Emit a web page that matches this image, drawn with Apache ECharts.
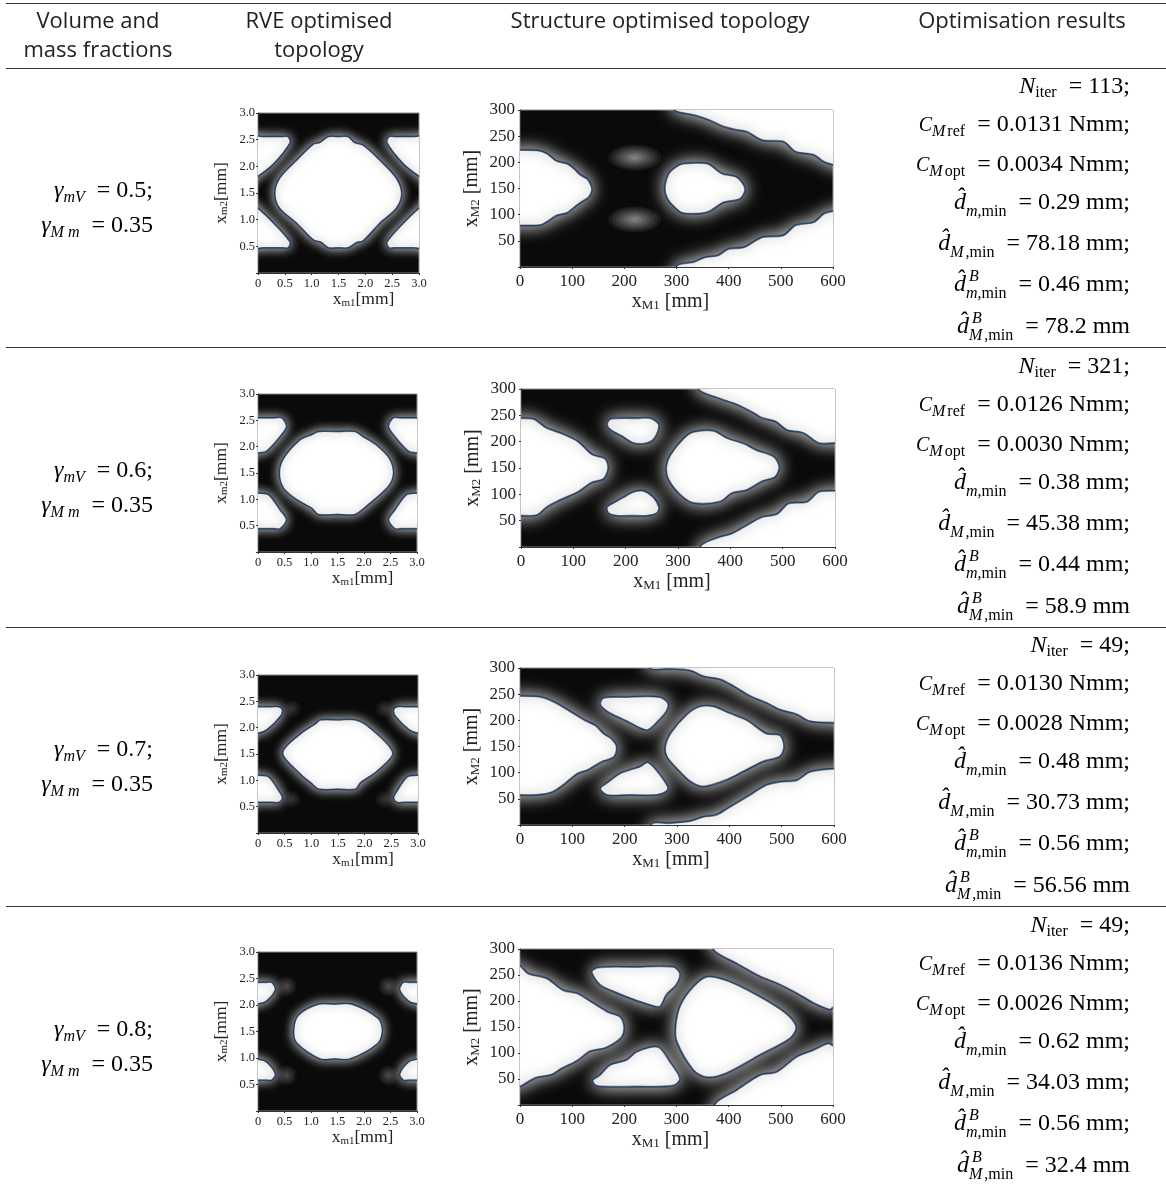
<!DOCTYPE html>
<html><head><meta charset="utf-8">
<script src="https://cdn.jsdelivr.net/npm/echarts@6/dist/echarts.min.js"></script>
<style>html,body{margin:0;padding:0;background:#fff}#c{width:1166px;height:1185px}</style>
</head><body><div id="c"></div>
<script>
// ---------- table text ----------
const headers = [["Volume and","mass fractions"],["RVE optimised","topology"],["Structure optimised topology"],["Optimisation results"]];
const gammaV = ["0.5","0.6","0.7","0.8"];
const gammaM = ["0.35","0.35","0.35","0.35"];
const nIter = ["113","321","49","49"];
const cRef = ["0.0131","0.0126","0.0130","0.0136"];
const cOpt = ["0.0034","0.0030","0.0028","0.0026"];
const dmMin = ["0.29","0.38","0.48","0.62"];
const dMMin = ["78.18","45.38","30.73","34.03"];
const dmBMin = ["0.46","0.44","0.56","0.56"];
const dMBMin = ["78.2","58.9","56.56","32.4"];

// ---------- void (white) regions in axis units ----------
const rveVoids = [
 [ [[0.31,1.49],[0.40,1.78],[0.72,2.12],[1.03,2.42],[1.15,2.45],[1.31,2.56],[1.50,2.56],[1.68,2.56],[1.80,2.45],[1.96,2.40],[2.27,2.12],[2.58,1.78],[2.68,1.49],[2.58,1.21],[2.27,0.93],[1.96,0.60],[1.84,0.57],[1.68,0.47],[1.50,0.47],[1.31,0.47],[1.18,0.57],[1.03,0.62],[0.72,0.93],[0.40,1.21]],
   [[-0.2,1.66],[0,1.81],[0.28,2.03],[0.60,2.44],[0.56,2.56],[0.45,2.56],[0.1,2.56],[-0.2,2.56]],
   [[3.2,1.66],[3,1.81],[2.72,2.03],[2.40,2.44],[2.44,2.56],[2.55,2.56],[2.9,2.56],[3.2,2.56]],
   [[-0.2,1.37],[0,1.22],[0.28,0.95],[0.60,0.58],[0.56,0.47],[0.45,0.47],[0.1,0.47],[-0.2,0.47]],
   [[3.2,1.37],[3,1.22],[2.72,0.95],[2.40,0.58],[2.44,0.47],[2.55,0.47],[2.9,0.47],[3.2,0.47]] ],
 [ [[0.40,1.50],[0.48,1.78],[0.79,2.13],[1.01,2.23],[1.14,2.29],[1.50,2.29],[1.83,2.29],[1.99,2.19],[2.24,2.03],[2.48,1.78],[2.56,1.50],[2.46,1.24],[2.05,0.87],[1.83,0.71],[1.50,0.71],[1.14,0.71],[1.01,0.83],[0.73,0.99],[0.48,1.21]],
   [[-0.2,1.88],[0,1.88],[0.16,1.91],[0.42,2.19],[0.54,2.38],[0.45,2.55],[0.3,2.55],[0,2.55],[-0.2,2.55]],
   [[3.2,1.88],[3,1.88],[2.84,1.91],[2.58,2.19],[2.46,2.38],[2.55,2.55],[2.7,2.55],[3,2.55],[3.2,2.55]],
   [[-0.2,1.12],[0,1.12],[0.2,1.09],[0.42,0.8],[0.54,0.61],[0.42,0.44],[0.3,0.44],[0,0.44],[-0.2,0.44]],
   [[3.2,1.12],[3,1.12],[2.8,1.09],[2.58,0.8],[2.46,0.61],[2.58,0.44],[2.7,0.44],[3,0.44],[3.2,0.44]] ],
 [ [[0.46,1.52],[0.80,1.89],[1.08,2.08],[1.17,2.15],[1.50,2.15],[1.83,2.15],[2.11,1.99],[2.53,1.52],[2.23,1.17],[1.92,0.95],[1.83,0.83],[1.50,0.83],[1.14,0.83],[0.99,0.95],[0.80,1.11]],
   [[-0.2,1.89],[0,1.89],[0.17,1.96],[0.42,2.21],[0.46,2.34],[0.39,2.40],[0.25,2.40],[0,2.40],[-0.2,2.40]],
   [[3.2,1.89],[3,1.89],[2.83,1.96],[2.58,2.21],[2.54,2.34],[2.61,2.40],[2.75,2.40],[3,2.40],[3.2,2.40]],
   [[-0.2,1.10],[0,1.10],[0.2,1.07],[0.42,0.76],[0.46,0.66],[0.39,0.58],[0.25,0.58],[0,0.58],[-0.2,0.58]],
   [[3.2,1.10],[3,1.10],[2.8,1.07],[2.58,0.76],[2.54,0.66],[2.61,0.58],[2.75,0.58],[3,0.58],[3.2,0.58]] ],
 [ [[0.67,1.53],[0.76,1.81],[1.14,2.02],[1.45,2.02],[1.77,2.02],[2.27,1.75],[2.35,1.53],[2.27,1.28],[1.74,0.98],[1.45,0.98],[1.17,0.98],[0.73,1.28]],
   [[-0.2,2.02],[0,2.02],[0.16,2.07],[0.33,2.29],[0.26,2.43],[0.15,2.43],[0,2.43],[-0.2,2.43]],
   [[3.2,2.02],[3,2.02],[2.84,2.07],[2.67,2.29],[2.74,2.43],[2.85,2.43],[3,2.43],[3.2,2.43]],
   [[-0.2,0.98],[0,0.98],[0.16,0.93],[0.33,0.7],[0.26,0.58],[0.15,0.58],[0,0.58],[-0.2,0.58]],
   [[3.2,0.98],[3,0.98],[2.84,0.93],[2.67,0.7],[2.74,0.58],[2.85,0.58],[3,0.58],[3.2,0.58]] ]
];
const structVoids = [
 [ [[-20,224],[0,224],[35,223],[52,217],[70,203],[92,197],[105,187],[115,177],[130,168],[137,155],[138,145],[132,133],[115,122],[102,112],[90,103],[70,98],[55,88],[40,80],[0,79],[-20,79]],
   [[277,150],[285,179],[301,193],[314,198],[359,198],[387,179],[416,172],[432,150],[422,130],[390,123],[365,107],[346,102],[311,103],[295,115],[282,131]],
   [[295,300],[333,290],[361,281],[390,268],[413,262],[435,258],[464,242],[505,239],[528,220],[563,214],[582,201],[600,195],[630,190],[630,330],[295,330]],
   [[301,3],[333,10],[355,19],[378,22],[400,35],[429,38],[464,57],[505,61],[528,80],[563,86],[582,102],[600,107],[630,110],[630,-30],[301,-30]] ],
 [ [[-20,245],[0,245],[25,243],[48,227],[80,215],[110,200],[136,176],[161,168],[167,150],[158,129],[135,122],[110,105],[75,89],[50,76],[30,60],[0,59],[-20,59]],
   [[164,232],[170,243],[190,245],[220,245],[247,245],[264,232],[256,207],[241,197],[215,197],[193,210],[171,222]],
   [[164,76],[180,86],[196,95],[215,105],[234,107],[253,95],[264,76],[260,64],[241,59],[210,59],[183,59],[167,64]],
   [[277,152],[285,175],[311,207],[330,219],[368,221],[394,207],[425,197],[451,184],[483,172],[494,152],[486,133],[460,124],[432,108],[403,102],[381,86],[330,83],[304,99],[282,127]],
   [[339,299],[375,283],[413,270],[445,254],[460,245],[486,238],[508,222],[540,216],[569,197],[600,197],[630,197],[630,330],[339,330]],
   [[343,2],[375,18],[400,25],[425,38],[460,57],[489,63],[511,83],[546,86],[569,105],[600,107],[630,107],[630,-30],[343,-30]] ],
 [ [[-20,247],[0,247],[40,245],[70,233],[100,215],[125,200],[145,190],[160,175],[175,165],[185,150],[180,130],[155,120],[130,105],[110,98],[85,78],[60,62],[30,57],[0,57],[-20,57]],
   [[153,230],[159,243],[200,245],[267,245],[283,233],[280,217],[261,195],[244,181],[229,185],[210,195],[185,207],[166,217]],
   [[153,70],[169,83],[191,99],[217,108],[229,112],[244,120],[261,105],[283,73],[280,64],[261,57],[210,57],[166,57]],
   [[277,150],[287,175],[318,211],[344,227],[369,227],[401,214],[433,201],[471,175],[497,172],[505,150],[497,131],[465,121],[427,102],[395,86],[350,73],[325,83],[299,108],[280,131]],
   [[248,299],[285,298],[325,295],[350,284],[382,278],[408,265],[440,246],[471,233],[497,220],[529,211],[554,198],[600,195],[630,195],[630,330],[248,330]],
   [[252,3],[285,4],[325,8],[350,16],[376,20],[401,35],[433,54],[471,77],[497,83],[529,86],[554,102],[600,108],[630,108],[630,-30],[252,-30]] ],
 [ [[-20,275],[0,268],[16,253],[51,244],[83,221],[110,215],[141,196],[169,179],[192,170],[200,150],[195,130],[165,110],[134,103],[110,85],[80,70],[60,58],[30,52],[0,35],[-20,30]],
   [[137,256],[150,265],[220,266],[294,266],[307,253],[300,231],[281,212],[268,189],[243,194],[211,205],[179,218],[153,231]],
   [[139,48],[153,58],[172,77],[204,87],[224,103],[265,112],[288,83],[307,51],[294,37],[225,35],[160,35],[144,38]],
   [[298,153],[307,192],[332,228],[358,247],[396,240],[454,212],[511,176],[530,150],[518,128],[460,96],[396,61],[358,53],[332,67],[300,122]],
   [[371,298],[415,272],[460,247],[492,234],[530,215],[562,196],[594,183],[600,187],[630,190],[630,330],[371,330]],
   [[374,3],[415,29],[460,58],[492,64],[530,93],[562,106],[591,119],[600,115],[630,112],[630,-30],[374,-30]] ]
];
// partial-density spots: centre x, centre y, radius x, radius y, peak grey level (0-255)
const rveSpots = [ [], [],
 [[0.64,2.36,0.17,0.17,48],[0.64,0.64,0.17,0.17,48],[2.36,2.36,0.17,0.17,48],[2.36,0.64,0.17,0.17,48]],
 [[0.54,2.35,0.19,0.19,70],[0.54,0.67,0.19,0.19,70],[2.46,2.35,0.19,0.19,70],[2.46,0.67,0.19,0.19,70]]
];
const structSpots = [
 [[220,209,50,24,125],[220,91,50,24,125]], [], [], []
];

// ---------- layout ----------
const rveBoxes = [[258,113,161,160],[258,394,159,158],[258,675,160,158],[258,952,159,159]];
const structBoxes = [[520,110,313,157],[521,389,314,158],[520,668,314,157],[520,949,313,156]];
const ruleYs = [3,68,347,627,906];
const rowDy = [0,279.5,559,838.5];
const resBase = [93,131,171,209,250,291,333];

const SERIF = '"Liberation Serif"';
const measure = document.createElement('canvas').getContext('2d');
const graphics = [];
function fontOf(r){ return (r.it?'italic ':'')+r.s+'px '+SERIF; }
function mathLine(right, base, runs){
  let x = right;
  for (let i=runs.length-1;i>=0;i--){
    const r = runs[i]; measure.font = fontOf(r);
    const w = measure.measureText(r.t).width;
    let px;
    if (r.zero) { px = x + r.zero; } else { x -= w + (r.pad||0); px = x; }
    graphics.push({type:'text',z:20,style:{text:r.t,x:px,y:base+(r.dy||0)-0.26*r.s,font:fontOf(r),fill:'#000',align:'left',verticalAlign:'middle'}});
  }
}
const R=t=>({t,s:24}), I=t=>({t,s:24,it:1}), CC=()=>({t:'C',s:20,it:1});
const sr=(t,d)=>({t,s:16,dy:d||5}), si=(t,d,p)=>({t,s:16,it:1,dy:d||5,pad:p||0});
const sup=t=>({t,s:16,it:1,dy:-10,zero:3});

headers.forEach((h,i)=>{
  const cx=[98,319,660,1022][i];
  h.forEach((t,j)=>graphics.push({type:'text',z:20,style:{text:t,x:cx,y:22+j*29,font:'22px "Open Sans"',fill:'#222',align:'center',verticalAlign:'middle'}}));
});
ruleYs.forEach(y=>graphics.push({type:'line',z:20,shape:{x1:6,y1:y+.5,x2:1166,y2:y+.5},style:{stroke:'#333',lineWidth:1}}));

rowDy.forEach((dy,k)=>{
  mathLine(153,197+dy,[I('γ'),si('mV'),R('  = '+gammaV[k]+';')]);
  mathLine(153,232+dy,[I('γ'),si('M'),si(' m'),R('  = '+gammaM[k])]);
  const r=1130;
  mathLine(r,resBase[0]+dy,[I('N'),sr('iter',4),R('  = '+nIter[k]+';')]);
  mathLine(r,resBase[1]+dy,[CC(),si('M',5,2),sr('ref'),R('  = '+cRef[k]+' Nmm;')]);
  mathLine(r,resBase[2]+dy,[CC(),si('M',5,2),sr('opt'),R('  = '+cOpt[k]+' Nmm;')]);
  mathLine(r,resBase[3]+dy,[I('d\u0302'),si('m',7),sr(',min',7),R('  = '+dmMin[k]+' mm;')]);
  mathLine(r,resBase[4]+dy,[I('d\u0302'),si('M',7,2),sr(',min',7),R('  = '+dMMin[k]+' mm;')]);
  mathLine(r,resBase[5]+dy,[I('d\u0302'),sup('B'),si('m',7),sr(',min',7),R('  = '+dmBMin[k]+' mm;')]);
  mathLine(r,resBase[6]+dy,[I('d\u0302'),sup('B'),si('M',7,2),sr(',min',7),R('  = '+dMBMin[k]+' mm')]);
});

// ---------- ECharts panels ----------
const BG=10;
const grids=[],xAxes=[],yAxes=[],series=[];
function tickFmt(dec,zeroY){return v=>{ if(v===0) return zeroY?'':'0'; return dec?v.toFixed(1):String(v);} }
function addPanel(box,voids,spots,cfg){
  const idx=grids.length;
  grids.push({left:box[0],top:box[1],width:box[2],height:box[3],show:true,backgroundColor:'rgb(10,10,10)',borderColor:'#8a8a8a',borderWidth:1});
  const nameStyle={fontFamily:SERIF,fontSize:cfg.nameSize,color:'#222',rich:{n:{fontFamily:SERIF,fontSize:cfg.nameSize,color:'#222'},s:{fontFamily:SERIF,fontSize:cfg.subSize,color:'#222',padding:[cfg.subDrop,0,0,0]}}};
  const common={type:'value',min:0,splitLine:{show:false},axisLine:{show:true,onZero:false,lineStyle:{color:'#333',width:1}},axisTick:{show:true,length:2,lineStyle:{color:'#333'}}};
  xAxes.push(Object.assign({},common,{gridIndex:idx,max:cfg.xMax,interval:cfg.xInt,name:cfg.xName,nameLocation:'middle',nameGap:cfg.xGap,nameTextStyle:Object.assign({padding:cfg.xNamePad},nameStyle),
    axisLabel:{show:true,showMaxLabel:true,showMinLabel:true,formatter:tickFmt(cfg.dec,false),fontFamily:SERIF,fontSize:cfg.tick,color:'#222',margin:cfg.xMargin}}));
  yAxes.push(Object.assign({},common,{gridIndex:idx,max:cfg.yMax,interval:cfg.yInt,name:cfg.yName,nameLocation:'middle',nameGap:cfg.yGap,nameRotate:90,nameTextStyle:nameStyle,
    axisLabel:{show:true,showMaxLabel:true,showMinLabel:true,formatter:tickFmt(cfg.dec,true),fontFamily:SERIF,fontSize:cfg.tick,color:'#222',margin:cfg.yMargin}}));
  series.push({type:'custom',xAxisIndex:idx,yAxisIndex:idx,coordinateSystem:'cartesian2d',clip:true,silent:true,animation:false,
    data:spots.map(s=>[s[0],s[1]]),
    renderItem:(p,api)=>{
      const s=spots[p.dataIndex],c=api.coord([s[0],s[1]]),sz=api.size([s[2],s[3]]);
      const kids=[];
      for(let n=0;n<7;n++){
        const f=1-n/7, g=Math.round(BG+(s[4]-BG)*Math.pow((n+1)/7,1.0));
        kids.push({type:'ellipse',shape:{cx:c[0],cy:c[1],rx:sz[0]*f,ry:sz[1]*f},style:{fill:`rgb(${g},${g},${g})`,shadowColor:`rgb(${g},${g},${g})`,shadowBlur:2}});
      }
      return {type:'group',children:kids};
    }});
  series.push({type:'custom',xAxisIndex:idx,yAxisIndex:idx,coordinateSystem:'cartesian2d',clip:true,silent:true,animation:false,z:3,
    data:voids.map(v=>v[0]),
    renderItem:(p,api)=>{
      const pts=voids[p.dataIndex].map(q=>api.coord(q));
      const sh={points:pts,smooth:0.3};
      return {type:'group',children:[
        {type:'polygon',shape:sh,style:{fill:'#fff',shadowColor:'rgba(255,255,255,1)',shadowBlur:cfg.glow}},
        {type:'polygon',shape:sh,style:{fill:'none',stroke:'rgba(90,90,90,0.7)',lineWidth:cfg.band,shadowColor:'rgba(120,120,120,1)',shadowBlur:cfg.inner}},
        {type:'polygon',shape:sh,style:{fill:'none',stroke:'#1f3f70',lineWidth:1.2}}
      ]};
    }});
}
const rveCfg={xMax:3,yMax:3,xInt:0.5,yInt:0.5,dec:true,tick:12.5,xMargin:4,yMargin:3,nameSize:17.5,subSize:11,subDrop:6,xGap:14,yGap:28,glow:12,inner:8,band:2,xNamePad:[0,0,0,50],
  xName:'{n|x}{s|m1}{n|[mm]}',yName:'{n|x}{s|m2}{n|[mm]}'};
const strCfg={xMax:600,yMax:300,xInt:100,yInt:50,dec:false,tick:17,xMargin:6,yMargin:5,nameSize:20,subSize:13,subDrop:7,xGap:25,yGap:38,glow:18,inner:11,band:2.4,xNamePad:[0,12,0,0],
  xName:'{n|x}{s|M1}{n| [mm]}',yName:'{n|x}{s|M2}{n| [mm]}'};
rveBoxes.forEach((b,i)=>addPanel(b,rveVoids[i],rveSpots[i],rveCfg));
structBoxes.forEach((b,i)=>addPanel(b,structVoids[i],structSpots[i],strCfg));

const chart=echarts.init(document.getElementById('c'),null,{renderer:'canvas'});
chart.setOption({animation:false,backgroundColor:'#fff',grid:grids,xAxis:xAxes,yAxis:yAxes,series,graphic:{elements:graphics}});
</script></body></html>
